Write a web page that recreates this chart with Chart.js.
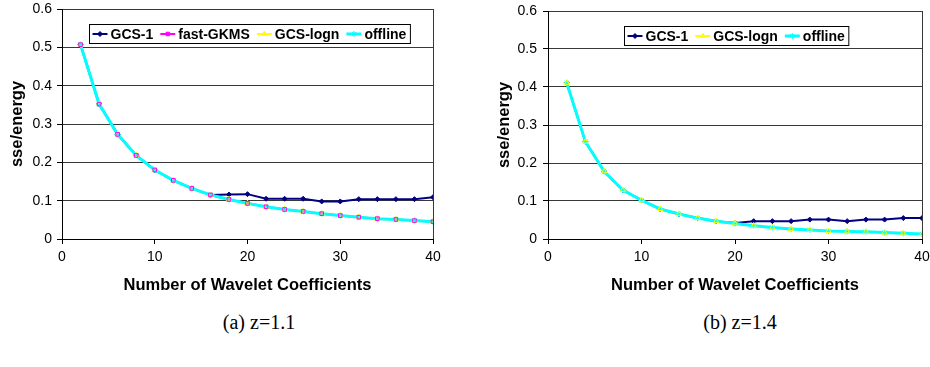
<!DOCTYPE html>
<html>
<head>
<meta charset="utf-8">
<script src="https://cdn.jsdelivr.net/npm/chart.js@4/dist/chart.umd.min.js"></script>
<style>
    body { margin: 0; background: #fff; }
    #page { position: relative; width: 930px; height: 367px; overflow: hidden; }
    canvas { position: absolute; top: 0; }
    #chart-a { left: 0; }
    #chart-b { left: 465px; }
    .caption {
        position: absolute;
        top: 310px;
        width: 200px;
        line-height: 24px;
        text-align: center;
        font-family: 'Liberation Serif', 'Times New Roman', serif;
        font-size: 20px;
        color: #000;
    }
</style>
</head>
<body>
<div id="page">
    <canvas id="chart-a" width="465" height="300"></canvas>
    <canvas id="chart-b" width="465" height="300"></canvas>
    <div class="caption" style="left:159px">(a) z=1.1</div>
    <div class="caption" style="left:640px">(b) z=1.4</div>
</div>
<script>
// Number of wavelet coefficients (x values, both panels)
const coeffCounts = [2, 4, 6, 8, 10, 12, 14, 16, 18, 20, 22, 24, 26, 28, 30, 32, 34, 36, 38, 40];

// Panel (a) z=1.1
const gcs1A     = [0.507, 0.352, 0.273, 0.218, 0.180, 0.153, 0.132, 0.115, 0.116, 0.117, 0.105, 0.105, 0.105, 0.098, 0.098, 0.104, 0.104, 0.104, 0.104, 0.109];
const fastGkmsA = [0.507, 0.352, 0.273, 0.218, 0.180, 0.153, 0.132, 0.115, 0.103, 0.093, 0.084, 0.077, 0.072, 0.066, 0.061, 0.057, 0.053, 0.051, 0.048, 0.045];
const gcsLognA  = [0.507, 0.352, 0.273, 0.218, 0.180, 0.153, 0.132, 0.115, 0.103, 0.093, 0.084, 0.077, 0.072, 0.066, 0.061, 0.057, 0.053, 0.051, 0.048, 0.045];
const offlineA  = [0.507, 0.352, 0.273, 0.218, 0.180, 0.153, 0.132, 0.115, 0.103, 0.093, 0.084, 0.077, 0.072, 0.066, 0.061, 0.057, 0.053, 0.051, 0.048, 0.045];

// Panel (b) z=1.4
const gcs1B     = [0.411, 0.256, 0.178, 0.129, 0.102, 0.079, 0.066, 0.055, 0.047, 0.042, 0.047, 0.047, 0.047, 0.051, 0.051, 0.047, 0.051, 0.051, 0.055, 0.055];
const gcsLognB  = [0.411, 0.256, 0.178, 0.129, 0.102, 0.079, 0.066, 0.055, 0.047, 0.041, 0.035, 0.030, 0.026, 0.024, 0.021, 0.020, 0.019, 0.017, 0.015, 0.013];
const offlineB  = [0.411, 0.256, 0.178, 0.129, 0.102, 0.079, 0.066, 0.055, 0.047, 0.041, 0.035, 0.030, 0.026, 0.024, 0.021, 0.020, 0.019, 0.017, 0.015, 0.013];

// Axis ticks
const xTicks = [0, 10, 20, 30, 40];
const yTicks = [0, 0.1, 0.2, 0.3, 0.4, 0.5, 0.6];

const FONT = "'Liberation Sans', Arial, sans-serif";
const GRID = '#383838';

const STYLES = {
    'GCS-1':     { color: '#000080', width: 2, point: 'rectRot', radius: 2.5 },
    'fast-GKMS': { color: '#FF00FF', width: 2, point: 'rect', radius: 2.5 },
    'GCS-logn':  { color: '#FFFF00', width: 2, point: 'triangle', radius: 3 },
    'offline':   { color: '#00FFFF', width: 3, point: 'star', radius: 3 }
};

function toPoints(values) {
    return values.map((v, i) => ({ x: coeffCounts[i], y: v }));
}

function lineDataset(label, values, order) {
    const s = STYLES[label];
    return {
        label: label,
        data: toPoints(values),
        borderColor: s.color,
        backgroundColor: s.color,
        borderWidth: s.width,
        pointStyle: s.point,
        pointRadius: s.radius,
        pointBorderWidth: 1,
        pointBorderColor: s.color,
        pointBackgroundColor: s.color,
        tension: 0,
        order: order
    };
}

// markers only, drawn over the cyan line like the spreadsheet does
function markerDataset(label, values) {
    const s = STYLES[label];
    return {
        label: label,
        data: toPoints(values),
        showLine: false,
        pointStyle: s.point,
        pointRadius: s.radius,
        pointBorderWidth: 1,
        pointBorderColor: s.color,
        pointBackgroundColor: 'rgba(0,0,0,0)',
        inLegend: false,
        order: -1
    };
}

// boxed legend drawn inside the plot area
const boxLegend = {
    id: 'boxLegend',
    afterDraw(chart, args, opts) {
        const ctx = chart.ctx;
        const area = chart.chartArea;
        const items = chart.data.datasets.filter(ds => ds.inLegend !== false);
        ctx.save();
        ctx.font = `bold 14px ${FONT}`;
        const sample = 15, gapText = 3, gapItem = 7, padL = 3, padR = 4;
        let total = padL + padR;
        items.forEach((ds, i) => {
            total += sample + gapText + ctx.measureText(ds.label).width;
            if (i > 0) total += gapItem;
        });
        const h = 19;
        const left = Math.round((area.left + area.right) / 2 - total / 2 + opts.shift) + 0.5;
        const top = Math.round(area.top + opts.top) + 0.5;
        ctx.fillStyle = '#fff';
        ctx.fillRect(left, top, total, h);
        ctx.strokeStyle = '#000';
        ctx.lineWidth = 1;
        ctx.strokeRect(left, top, total, h);

        let x = left + padL;
        const cy = top + h / 2;
        items.forEach(ds => {
            const s = STYLES[ds.label];
            ctx.strokeStyle = s.color;
            ctx.lineWidth = s.width;
            ctx.beginPath();
            ctx.moveTo(x, cy);
            ctx.lineTo(x + sample, cy);
            ctx.stroke();
            ctx.fillStyle = s.color;
            ctx.lineWidth = 1;
            Chart.helpers.drawPoint(ctx, { pointStyle: s.point, radius: s.radius, borderWidth: 1, rotation: 0 }, x + sample / 2, cy);
            x += sample + gapText;
            ctx.fillStyle = '#000';
            ctx.textBaseline = 'middle';
            ctx.textAlign = 'left';
            ctx.fillText(ds.label, x, cy + 1);
            x += ctx.measureText(ds.label).width + gapItem;
        });
        ctx.restore();
    }
};

function buildChart(canvasId, datasets, geo) {
    const ctx = document.getElementById(canvasId).getContext('2d');
    return new Chart(ctx, {
        type: 'line',
        data: { datasets: datasets },
        plugins: [boxLegend],
        options: {
            responsive: false,
            animation: false,
            devicePixelRatio: 1,
            layout: { padding: { left: 0, right: geo.padRight, top: geo.padTop, bottom: 0 } },
            plugins: {
                legend: { display: false },
                tooltip: { enabled: false },
                boxLegend: { top: geo.legendTop, shift: geo.legendShift }
            },
            scales: {
                x: {
                    type: 'linear',
                    min: xTicks[0],
                    max: xTicks[xTicks.length - 1],
                    afterBuildTicks: s => { s.ticks = xTicks.map(v => ({ value: v })); },
                    afterFit: s => { s.height = 61; s.paddingLeft = 0; s.paddingRight = 0; },
                    ticks: {
                        color: '#000',
                        padding: 5,
                        maxRotation: 0,
                        font: { family: FONT, size: 14 }
                    },
                    grid: {
                        drawOnChartArea: true,
                        color: c => (c.tick && c.tick.value === xTicks[xTicks.length - 1]) ? GRID : 'rgba(0,0,0,0)',
                        tickColor: '#000',
                        tickLength: 5
                    },
                    border: { color: '#000', width: 1 },
                    title: {
                        display: true,
                        text: 'Number of Wavelet Coefficients',
                        color: '#000',
                        font: { family: FONT, size: 16.5, weight: 'bold' },
                        padding: { top: 4, bottom: 5 }
                    }
                },
                y: {
                    type: 'linear',
                    min: yTicks[0],
                    max: yTicks[yTicks.length - 1],
                    afterBuildTicks: s => { s.ticks = yTicks.map(v => ({ value: v })); },
                    afterFit: s => { s.width = geo.yWidth; s.paddingTop = 0; s.paddingBottom = 0; },
                    ticks: {
                        color: '#000',
                        padding: geo.yTickPad,
                        font: { family: FONT, size: 14 },
                        callback: v => (v === 0 ? '0' : v.toFixed(1))
                    },
                    grid: { color: GRID, tickColor: '#000', tickLength: 5 },
                    border: { color: '#000', width: 1 },
                    title: {
                        display: true,
                        text: 'sse/energy',
                        color: '#000',
                        font: { family: FONT, size: 16.5, weight: 'bold' },
                        padding: { top: geo.yTitlePad, bottom: 0 }
                    }
                }
            }
        }
    });
}

buildChart('chart-a', [
    lineDataset('GCS-1', gcs1A, 3),
    lineDataset('fast-GKMS', fastGkmsA, 2),
    lineDataset('GCS-logn', gcsLognA, 1),
    lineDataset('offline', offlineA, 0),
    markerDataset('fast-GKMS', fastGkmsA),
    markerDataset('GCS-logn', gcsLognA)
], { padRight: 32, padTop: 9, yWidth: 62, yTickPad: 5, yTitlePad: 8, legendTop: 15, legendShift: 2 });

buildChart('chart-b', [
    lineDataset('GCS-1', gcs1B, 3),
    lineDataset('GCS-logn', gcsLognB, 1),
    lineDataset('offline', offlineB, 0),
    markerDataset('GCS-logn', gcsLognB)
], { padRight: 8, padTop: 11, yWidth: 83, yTickPad: 6, yTitlePad: 30, legendTop: 15, legendShift: 1 });
</script>
</body>
</html>
